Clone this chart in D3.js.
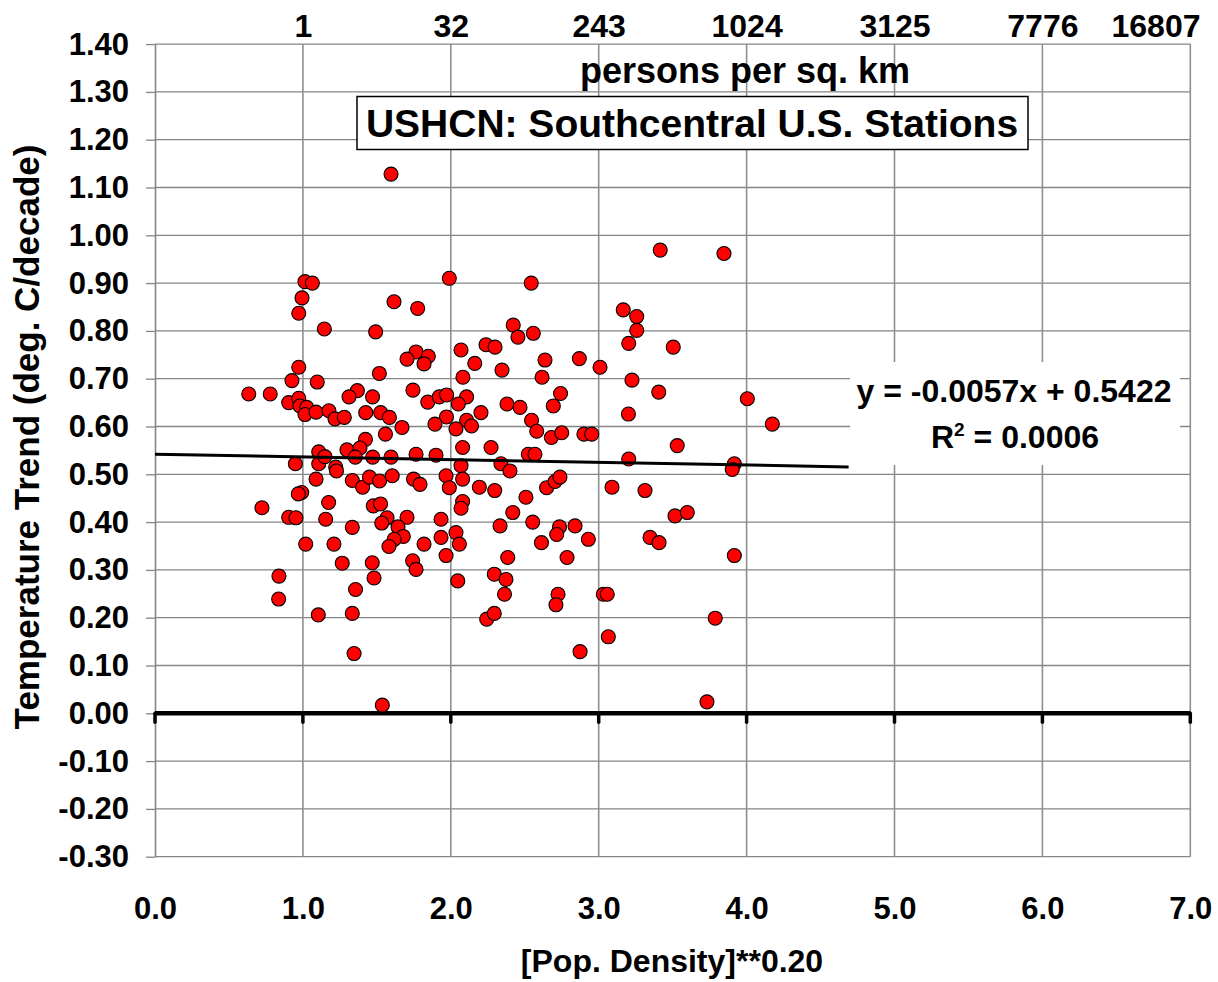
<!DOCTYPE html>
<html>
<head>
<meta charset="utf-8">
<script src="https://cdn.jsdelivr.net/npm/d3@7"></script>
<style>
  html, body { margin: 0; padding: 0; background: #fff; }
  svg { display: block; font-family: 'Liberation Sans', Arial, sans-serif; font-weight: bold; }
</style>
</head>
<body>
<div id="chart"></div>
<script>
// [pop. density ** 0.2, temperature trend deg C/decade]
const stations = [
  [1.596, 1.128], [1.014, 0.903], [1.064, 0.900], [0.994, 0.869], [0.972, 0.837],
  [1.145, 0.804], [1.492, 0.798], [1.616, 0.861], [1.776, 0.847], [1.990, 0.910],
  [2.544, 0.900], [2.422, 0.812], [2.454, 0.787], [2.558, 0.795], [3.416, 0.969],
  [3.847, 0.962], [3.166, 0.844], [3.257, 0.830], [3.257, 0.801], [3.203, 0.774],
  [3.504, 0.766], [2.637, 0.739], [2.869, 0.742], [3.009, 0.724], [2.346, 0.718],
  [2.617, 0.703], [3.225, 0.697], [3.406, 0.672], [2.742, 0.669], [4.005, 0.658],
  [4.174, 0.605], [2.380, 0.647], [2.468, 0.640], [2.693, 0.643], [3.201, 0.626],
  [2.546, 0.613], [2.581, 0.590], [2.680, 0.577], [2.750, 0.587], [2.900, 0.584],
  [2.953, 0.584], [2.069, 0.760], [2.238, 0.771], [2.299, 0.766], [1.765, 0.756],
  [1.848, 0.747], [1.704, 0.741], [1.819, 0.731], [2.162, 0.732], [2.082, 0.703],
  [1.517, 0.711], [1.744, 0.676], [1.844, 0.651], [1.922, 0.662], [1.972, 0.666],
  [2.107, 0.662], [2.051, 0.647], [2.204, 0.629], [1.971, 0.620], [2.107, 0.613],
  [2.140, 0.601], [1.893, 0.605], [2.035, 0.595], [1.670, 0.598], [1.471, 0.662],
  [1.368, 0.675], [1.312, 0.662], [1.425, 0.629], [1.526, 0.629], [1.585, 0.619],
  [1.558, 0.584], [1.423, 0.573], [1.298, 0.551], [1.386, 0.555], [1.107, 0.547],
  [0.926, 0.696], [0.972, 0.724], [1.097, 0.693], [0.634, 0.668], [0.779, 0.668],
  [0.904, 0.650], [0.972, 0.659], [0.980, 0.643], [1.026, 0.640], [1.014, 0.625],
  [1.089, 0.630], [1.176, 0.633], [1.217, 0.616], [1.280, 0.619], [1.107, 0.522],
  [1.149, 0.537], [0.949, 0.522], [1.222, 0.515], [1.227, 0.507], [1.354, 0.536],
  [1.472, 0.536], [1.596, 0.536], [1.089, 0.490], [1.334, 0.487], [1.404, 0.473],
  [1.450, 0.494], [1.518, 0.486], [1.604, 0.497], [1.748, 0.490], [1.792, 0.479],
  [1.765, 0.542], [1.900, 0.540], [2.080, 0.556], [2.272, 0.556], [2.524, 0.542],
  [2.569, 0.542], [2.069, 0.518], [2.339, 0.522], [2.400, 0.507], [1.968, 0.497],
  [2.080, 0.490], [1.990, 0.472], [2.193, 0.473], [2.297, 0.466], [2.648, 0.472],
  [2.705, 0.485], [2.738, 0.494], [2.508, 0.452], [2.080, 0.443], [2.069, 0.429],
  [2.419, 0.420], [1.704, 0.410], [1.934, 0.406], [2.333, 0.392], [2.554, 0.400],
  [2.735, 0.390], [2.716, 0.374], [2.840, 0.392], [2.035, 0.378], [1.934, 0.368],
  [2.058, 0.354], [1.819, 0.354], [2.613, 0.357], [1.968, 0.330], [1.742, 0.319],
  [1.765, 0.301], [2.385, 0.326], [2.786, 0.326], [2.047, 0.277], [2.294, 0.291],
  [2.373, 0.280], [2.363, 0.249], [2.725, 0.249], [2.711, 0.227], [2.243, 0.197],
  [2.294, 0.209], [0.992, 0.462], [0.969, 0.459], [0.723, 0.430], [1.174, 0.441],
  [1.476, 0.434], [1.525, 0.438], [1.569, 0.409], [1.533, 0.398], [0.904, 0.410],
  [0.953, 0.409], [1.154, 0.406], [1.334, 0.389], [1.643, 0.390], [1.679, 0.370],
  [1.617, 0.364], [1.582, 0.349], [1.019, 0.354], [1.210, 0.354], [1.266, 0.314],
  [1.469, 0.315], [1.481, 0.283], [0.838, 0.287], [1.356, 0.259], [0.836, 0.239],
  [1.104, 0.206], [1.334, 0.209], [1.346, 0.125], [1.537, 0.017], [3.203, 0.532],
  [3.531, 0.560], [3.917, 0.522], [3.903, 0.510], [3.090, 0.473], [3.313, 0.466],
  [2.930, 0.364], [3.516, 0.413], [3.599, 0.420], [3.347, 0.368], [3.408, 0.357],
  [3.917, 0.330], [3.031, 0.249], [3.058, 0.249], [3.065, 0.160], [2.874, 0.129],
  [3.788, 0.199], [3.732, 0.024],
];

const xTickValues = [0, 1, 2, 3, 4, 5, 6, 7];
const yTickValues = [-0.3, -0.2, -0.1, 0, 0.1, 0.2, 0.3, 0.4, 0.5, 0.6, 0.7,
  0.8, 0.9, 1.0, 1.1, 1.2, 1.3, 1.4];
const densityTickValues = [1, 2, 3, 4, 5, 6, 7];
const densityTickLabels = ['1', '32', '243', '1024', '3125', '7776', '16807'];

const trendSlope = -0.0057;
const trendIntercept = 0.5422;
const trendXMax = 4.69;
const trendR2 = '0.0006';

const chartTitle = 'USHCN: Southcentral U.S. Stations';
const topAxisTitle = 'persons per sq. km';
const xAxisTitle = '[Pop. Density]**0.20';
const yAxisTitle = 'Temperature Trend (deg. C/decade)';

const width = 1218;
const height = 982;
const plot = { left: 155, right: 1190.3, top: 44.1, bottom: 856.7 };
const FONT = "'Liberation Sans', Arial, sans-serif";

const svg = d3.select('#chart')
  .append('svg')
  .attr('width', width)
  .attr('height', height);

const x = d3.scaleLinear().domain([0, 7]).range([plot.left, plot.right]);
const y = d3.scaleLinear().domain([-0.3, 1.4]).range([plot.bottom, plot.top]);

// excel style: plain hyphen for negatives
const fmt = (spec) => (d) => d3.format(spec)(d).replace('\u2212', '-');

const styleLabels = (g, size) => g.selectAll('text')
  .attr('fill', '#000')
  .attr('font-size', size)
  .attr('font-family', FONT)
  .attr('font-weight', 'bold');

// grid
const grid = svg.append('g').attr('class', 'grid');
grid.selectAll('.h-grid')
  .data(yTickValues)
  .join('line')
  .attr('class', 'h-grid')
  .attr('x1', plot.left)
  .attr('x2', plot.right)
  .attr('y1', (d) => y(d))
  .attr('y2', (d) => y(d))
  .attr('stroke', '#858585')
  .attr('stroke-width', 1.3);
grid.selectAll('.v-grid')
  .data(xTickValues.slice(1))
  .join('line')
  .attr('class', 'v-grid')
  .attr('x1', (d) => x(d))
  .attr('x2', (d) => x(d))
  .attr('y1', plot.top)
  .attr('y2', plot.bottom)
  .attr('stroke', '#8f8f8f')
  .attr('stroke-width', 1.6);

// left axis
svg.append('g')
  .attr('transform', `translate(${plot.left},0)`)
  .call(d3.axisLeft(y)
    .tickValues(yTickValues)
    .tickFormat(fmt('.2f'))
    .tickSize(9)
    .tickSizeOuter(0)
    .tickPadding(17))
  .call((g) => g.select('.domain').attr('stroke', '#858585').attr('stroke-width', 1.6))
  .call((g) => g.selectAll('.tick line').attr('stroke', '#858585').attr('stroke-width', 1.3))
  .call((g) => styleLabels(g, 31));

// bottom labels
svg.append('g')
  .attr('transform', 'translate(0,897)')
  .call(d3.axisBottom(x)
    .tickValues(xTickValues)
    .tickFormat(fmt('.1f'))
    .tickSize(0)
    .tickPadding(0))
  .call((g) => g.select('.domain').remove())
  .call((g) => styleLabels(g, 31));

// top labels (persons per sq. km), last one pulled inside like excel does
svg.append('g')
  .attr('transform', 'translate(0,37)')
  .call(d3.axisTop(x)
    .tickValues(densityTickValues)
    .tickFormat((d, i) => densityTickLabels[i])
    .tickSize(0)
    .tickPadding(0))
  .call((g) => g.select('.domain').remove())
  .call((g) => styleLabels(g, 32))
  .call((g) => g.selectAll('text')
    .filter((d) => d === 7)
    .attr('text-anchor', 'end')
    .attr('x', width - 18 - x(7)));

// zero line with ticks
svg.append('line')
  .attr('x1', plot.left)
  .attr('x2', plot.right)
  .attr('y1', y(0))
  .attr('y2', y(0))
  .attr('stroke', '#000')
  .attr('stroke-width', 4.5);
svg.append('g')
  .selectAll('line')
  .data(xTickValues)
  .join('line')
  .attr('x1', (d) => x(d))
  .attr('x2', (d) => x(d))
  .attr('y1', y(0))
  .attr('y2', y(0) + 9)
  .attr('stroke', '#000')
  .attr('stroke-width', 3.5)
  .attr('stroke-linecap', 'round');

// stations
svg.append('g')
  .selectAll('circle')
  .data(stations)
  .join('circle')
  .attr('cx', (d) => x(d[0]))
  .attr('cy', (d) => y(d[1]))
  .attr('r', 7)
  .attr('fill', '#ff0000')
  .attr('stroke', '#000')
  .attr('stroke-width', 1.1);

// linear trend
svg.append('line')
  .attr('x1', x(0))
  .attr('y1', y(trendIntercept))
  .attr('x2', x(trendXMax))
  .attr('y2', y(trendIntercept + trendSlope * trendXMax))
  .attr('stroke', '#000')
  .attr('stroke-width', 3);

// equation label
const eq = svg.append('g');
eq.append('rect')
  .attr('x', 850)
  .attr('y', 362)
  .attr('width', 330)
  .attr('height', 103)
  .attr('fill', '#fff');
eq.append('text')
  .attr('x', 1014)
  .attr('y', 402)
  .attr('text-anchor', 'middle')
  .attr('font-size', 32)
  .text(`y = ${trendSlope.toFixed(4)}x + ${trendIntercept.toFixed(4)}`);
const r2 = eq.append('text')
  .attr('x', 1015)
  .attr('y', 448)
  .attr('text-anchor', 'middle')
  .attr('font-size', 32);
r2.append('tspan').text('R');
r2.append('tspan').attr('font-size', 19).attr('dy', -12).text('2');
r2.append('tspan').attr('dy', 12).text(` = ${trendR2}`);

// title box
svg.append('rect')
  .attr('x', 357)
  .attr('y', 96.5)
  .attr('width', 671)
  .attr('height', 53)
  .attr('fill', '#fff')
  .attr('stroke', '#000')
  .attr('stroke-width', 1.5);
svg.append('text')
  .attr('x', 692)
  .attr('y', 137)
  .attr('text-anchor', 'middle')
  .attr('font-size', 39)
  .text(chartTitle);

svg.append('text')
  .attr('x', 745)
  .attr('y', 83)
  .attr('text-anchor', 'middle')
  .attr('font-size', 36)
  .text(topAxisTitle);

svg.append('text')
  .attr('x', 672)
  .attr('y', 972)
  .attr('text-anchor', 'middle')
  .attr('font-size', 32)
  .text(xAxisTitle);

svg.append('text')
  .attr('transform', 'translate(39,437) rotate(-90)')
  .attr('text-anchor', 'middle')
  .attr('font-size', 35)
  .text(yAxisTitle);
</script>
</body>
</html>
